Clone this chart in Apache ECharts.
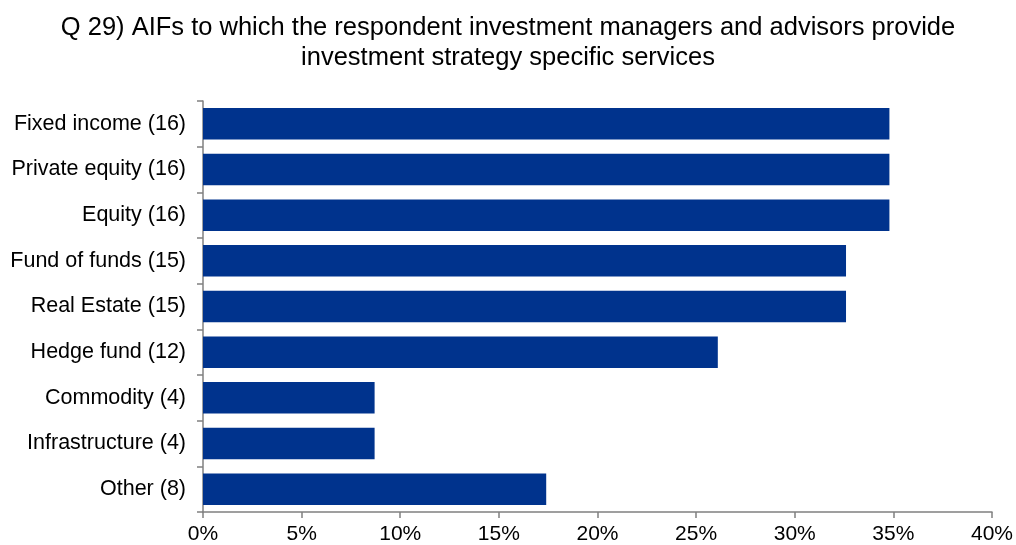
<!DOCTYPE html>
<html>
<head>
<meta charset="utf-8">
<script src="https://cdn.jsdelivr.net/npm/echarts@6/dist/echarts.min.js"></script>
<style>
  html, body { margin: 0; padding: 0; background: #ffffff; }
  #chart { width: 1016px; height: 545px; }
</style>
</head>
<body>
<div id="chart"></div>
<script>
// Strategy categories, top to bottom, with respondent counts
const categories = [
  'Fixed income (16)',
  'Private equity (16)',
  'Equity (16)',
  'Fund of funds (15)',
  'Real Estate (15)',
  'Hedge fund (12)',
  'Commodity (4)',
  'Infrastructure (4)',
  'Other (8)'
];
// Share of respondents (%)
const shares = [34.8, 34.8, 34.8, 32.6, 32.6, 26.1, 8.7, 8.7, 17.4];
// X axis ticks (%)
const xTicks = [0, 5, 10, 15, 20, 25, 30, 35, 40];

const font = '"Liberation Sans", Arial, sans-serif';
const chart = echarts.init(document.getElementById('chart'), null, { renderer: 'canvas' });

chart.setOption({
  animation: false,
  backgroundColor: '#ffffff',
  title: {
    text: 'Q 29) AIFs to which the respondent investment managers and advisors provide\ninvestment strategy specific services',
    left: 'center',
    top: 8,
    textStyle: {
      fontFamily: font,
      fontSize: 25.5,
      fontWeight: 'normal',
      color: '#000000',
      lineHeight: 30
    }
  },
  grid: {
    left: 203,
    right: 21,
    top: 101,
    bottom: 33,
    containLabel: false
  },
  xAxis: {
    type: 'value',
    min: xTicks[0],
    max: xTicks[xTicks.length - 1],
    interval: xTicks[1] - xTicks[0],
    splitLine: { show: false },
    axisLine: { show: true, lineStyle: { color: '#808080', width: 1.5 } },
    axisTick: { show: true, length: 6, lineStyle: { color: '#808080', width: 1.5 } },
    axisLabel: {
      fontFamily: font,
      fontSize: 21,
      color: '#000000',
      margin: 12,
      formatter: v => v + '%'
    }
  },
  yAxis: {
    type: 'category',
    inverse: true,
    data: categories,
    axisLine: { show: true, lineStyle: { color: '#808080', width: 1.5 } },
    axisTick: { show: true, length: 6, lineStyle: { color: '#808080', width: 1.5 } },
    axisLabel: {
      fontFamily: font,
      fontSize: 21.5,
      color: '#000000',
      margin: 17
    }
  },
  series: [{
    type: 'bar',
    data: shares,
    barCategoryGap: '31%',
    itemStyle: { color: '#00338D' }
  }]
});
</script>
</body>
</html>
